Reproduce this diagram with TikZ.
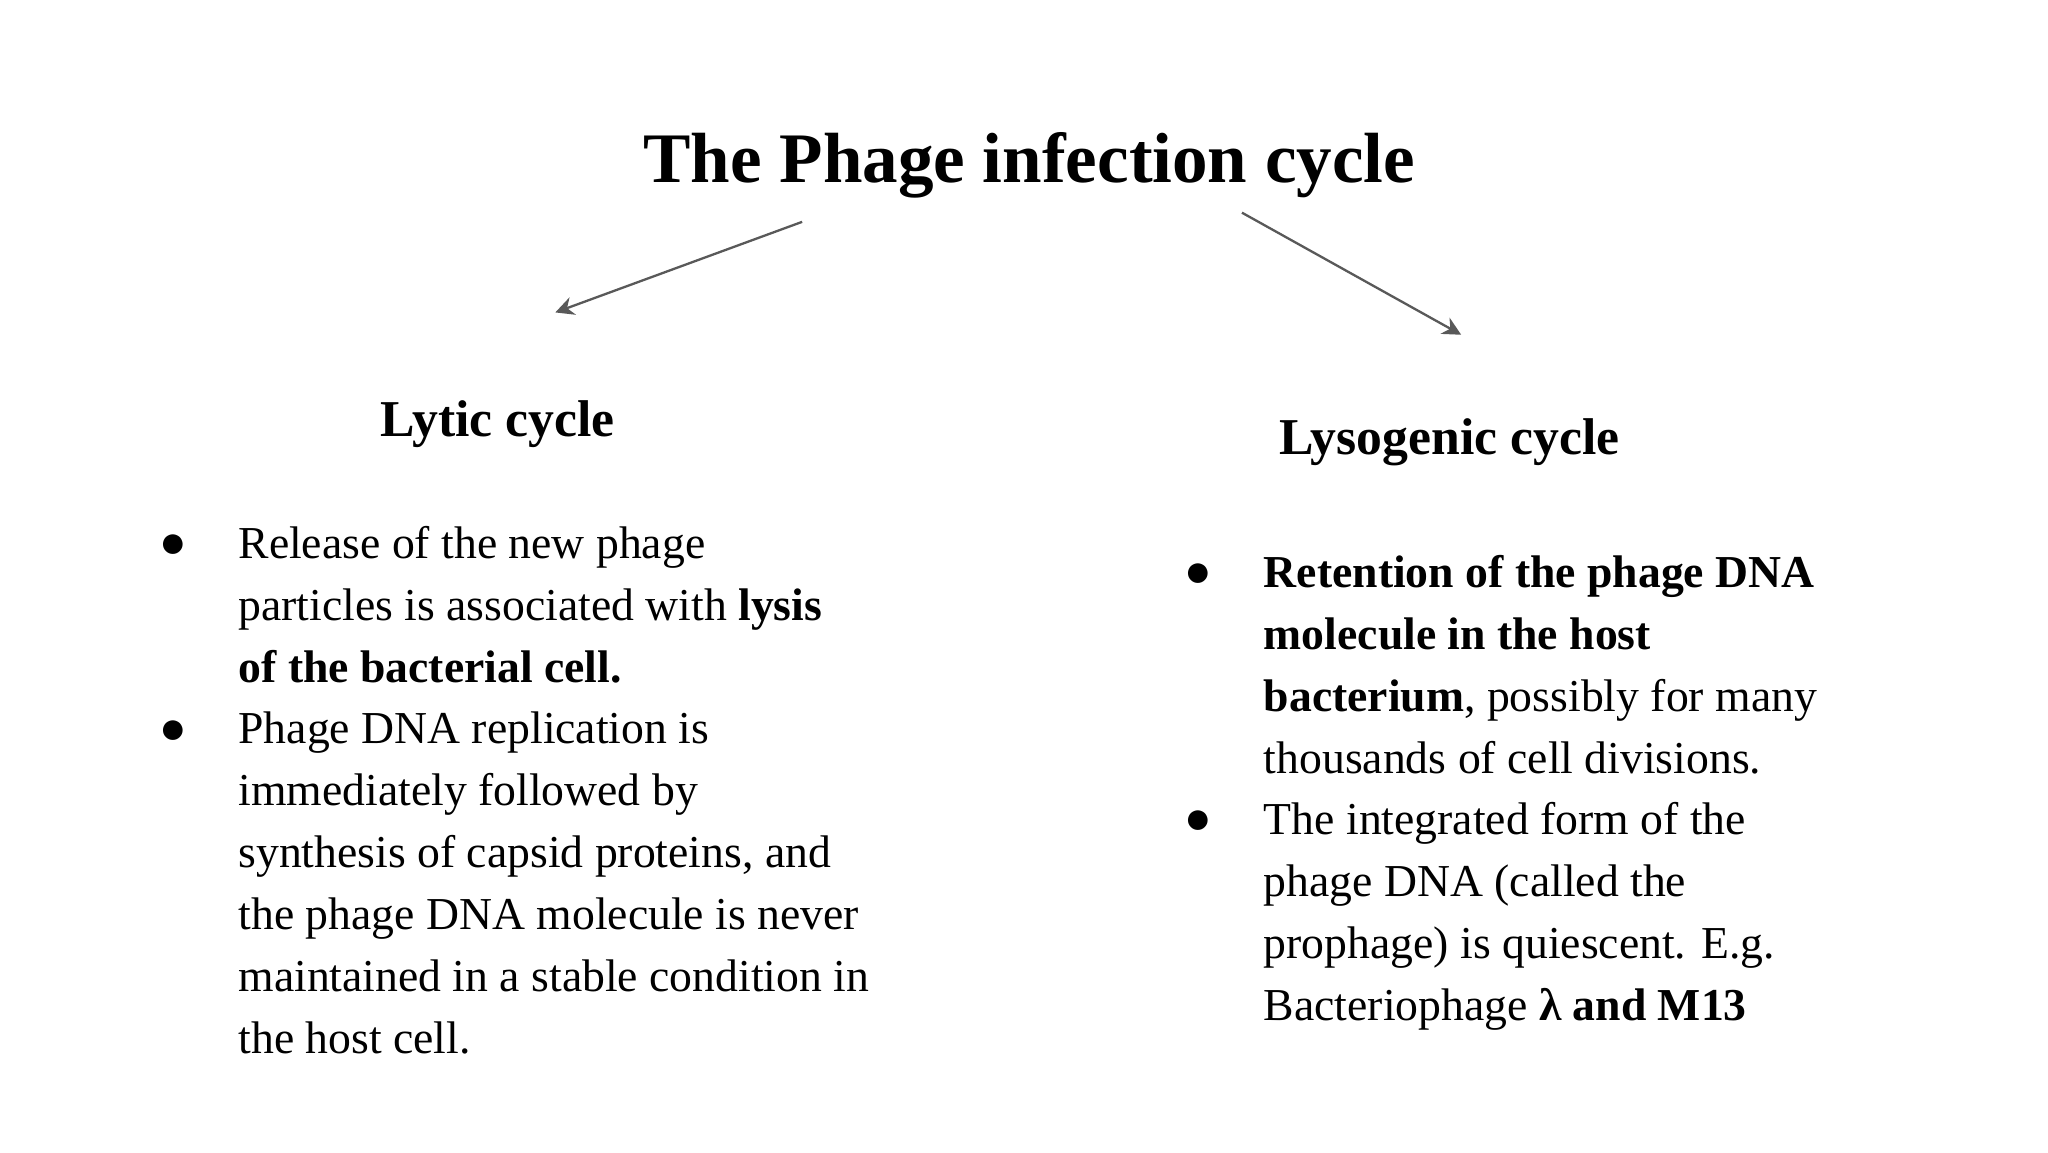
\documentclass[tikz,border=0pt]{standalone}
\usepackage{fontspec}
\setmainfont{Liberation Serif}
\usetikzlibrary{positioning,arrows.meta}

\begin{document}
\begin{tikzpicture}[x=1cm,y=1cm,
    item/.style={anchor=north west,align=left,inner sep=0pt,
      font=\fontsize{9.9}{13.4}\selectfont},
    dot/.style={anchor=base,inner sep=0pt,font=\fontsize{9.9}{13.4}\selectfont},
    arr/.style={-{Stealth[length=4pt,width=4pt]},draw=black!65,line width=0.5pt}]
    \useasboundingbox (0,0) rectangle (15.6,8.78);

    \node[font=\fontsize{15.4}{18}\bfseries] (title) at (7.84,7.52) {The Phage infection cycle};
    \node[font=\fontsize{11.2}{13}\bfseries] (lytic) at (3.79,5.55) {Lytic cycle};
    \node[font=\fontsize{11.2}{13}\bfseries] (lyso) at (11.04,5.41) {Lysogenic cycle};

    \coordinate (a1) at (6.11,7.09);
    \coordinate (a2) at (4.23,6.40);
    \coordinate (b1) at (9.46,7.16);
    \coordinate (b2) at (11.13,6.23);
    \draw[arr] (a1) -- (a2);
    \draw[arr] (b1) -- (b2);

    % lytic cycle
    \node[item] (l1) at (1.81,4.86) {\strut Release of the new phage\\ particles is associated with \textbf{lysis}\\ \textbf{of the bacterial cell.}};
    \node[item] (l2) at (1.81,3.45) {\strut Phage DNA replication is\\ immediately followed by\\ synthesis of capsid proteins, and\\ the phage DNA molecule is never\\ maintained in a stable condition in\\ the host cell.};
    \node[dot] (d1) at (1.32,4.53) {●};
    \node[dot] (d2) at (1.32,3.12) {●};

    % lysogenic cycle
    \node[item] (r1) at (9.62,4.64) {\strut\textbf{Retention of the phage DNA}\\ \textbf{molecule in the host}\\ \textbf{bacterium}, possibly for many\\ thousands of cell divisions.};
    \node[item] (r2) at (9.62,2.76) {\strut The integrated form of the\\ phage DNA (called the\\ prophage) is quiescent. E.g.\\ Bacteriophage \textbf{λ and M13}};
    \node[dot] (d3) at (9.13,4.31) {●};
    \node[dot] (d4) at (9.13,2.43) {●};
\end{tikzpicture}
\end{document}
